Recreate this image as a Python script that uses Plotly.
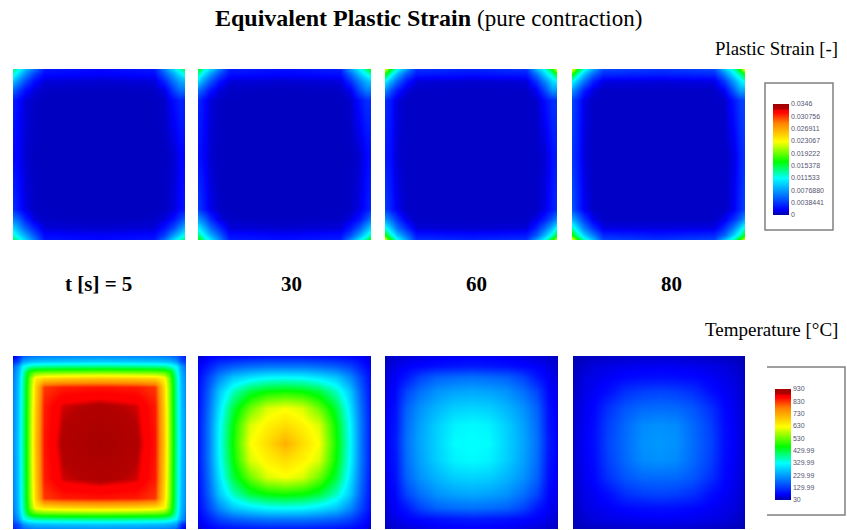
import plotly.graph_objects as go

W, H = 847, 530

strain_coords = [0, 3, 7, 12, 18, 50, 82, 88, 93, 97, 100]
strain_5 = [
    [14.0, 12.0, 9.0, 6.0, 2.6, 1.9, 2.6, 6.5, 10.0, 13.0, 15.0],
    [12.0, 10.0, 7.0, 4.0, 2.0, 1.7, 2.0, 5.0, 8.0, 10.5, 12.0],
    [9.0, 7.0, 4.5, 2.2, 1.0, 0.8, 1.0, 3.0, 6.0, 8.0, 8.5],
    [5.5, 4.0, 2.2, 1.0, 0.6, 0.5, 0.6, 1.2, 4.0, 6.0, 6.0],
    [2.8, 2.0, 1.0, 0.6, 0.5, 0.5, 0.5, 0.7, 2.0, 3.0, 3.0],
    [1.9, 1.7, 0.8, 0.5, 0.5, 0.5, 0.5, 0.5, 0.8, 1.7, 1.9],
    [3.5, 2.5, 1.2, 0.6, 0.5, 0.5, 0.5, 0.6, 1.0, 2.0, 2.6],
    [6.5, 5.5, 3.0, 1.0, 0.6, 0.5, 0.6, 1.0, 2.2, 4.0, 5.5],
    [10.0, 8.0, 5.5, 3.0, 1.0, 0.8, 1.0, 2.4, 4.5, 7.0, 9.0],
    [12.5, 10.5, 8.0, 5.0, 2.0, 1.7, 2.0, 4.0, 7.5, 10.0, 12.0],
    [15.0, 13.0, 10.0, 6.5, 2.6, 1.9, 2.6, 6.0, 10.0, 13.0, 15.0],
]
strain_30 = [
    [16.0, 13.0, 10.0, 6.5, 2.8, 2.2, 2.8, 7.5, 11.0, 14.0, 17.0],
    [13.0, 10.5, 7.5, 4.5, 2.2, 1.8, 2.2, 5.5, 9.0, 11.5, 13.0],
    [10.0, 7.5, 5.0, 2.4, 1.0, 0.8, 1.0, 3.4, 6.5, 8.5, 9.5],
    [6.0, 4.5, 2.4, 1.0, 0.6, 0.5, 0.6, 1.4, 4.5, 6.5, 6.5],
    [3.2, 2.2, 1.0, 0.6, 0.5, 0.5, 0.5, 0.7, 2.2, 3.4, 3.4],
    [2.2, 1.8, 0.8, 0.5, 0.5, 0.5, 0.5, 0.5, 0.8, 1.8, 2.3],
    [4.0, 2.8, 1.3, 0.6, 0.5, 0.5, 0.5, 0.6, 1.2, 2.4, 3.2],
    [7.5, 6.0, 3.4, 1.1, 0.6, 0.5, 0.6, 1.1, 2.4, 4.5, 6.5],
    [11.0, 9.0, 6.0, 3.4, 1.0, 0.8, 1.0, 2.6, 5.0, 8.0, 10.0],
    [14.0, 11.5, 8.5, 5.5, 2.2, 1.8, 2.2, 4.5, 8.0, 11.0, 13.5],
    [17.0, 14.0, 11.0, 7.0, 2.8, 2.2, 2.8, 7.0, 11.0, 14.0, 17.5],
]
strain_60 = [
    [22.0, 16.5, 11.5, 7.5, 3.6, 3.0, 3.6, 8.5, 12.0, 16.5, 23.0],
    [16.5, 12.5, 8.5, 5.0, 2.6, 2.2, 2.6, 6.0, 10.0, 13.0, 16.5],
    [11.0, 8.5, 5.5, 2.6, 1.0, 0.8, 1.0, 3.6, 7.0, 10.0, 11.0],
    [7.0, 5.0, 2.6, 1.0, 0.6, 0.6, 0.6, 1.5, 4.6, 7.5, 7.5],
    [3.4, 2.6, 1.0, 0.6, 0.6, 0.6, 0.6, 0.7, 2.2, 3.4, 3.6],
    [2.6, 2.2, 0.8, 0.6, 0.6, 0.6, 0.6, 0.6, 0.9, 2.2, 2.8],
    [4.0, 3.0, 1.4, 0.6, 0.6, 0.6, 0.6, 0.6, 1.3, 2.6, 3.4],
    [7.5, 6.0, 3.6, 1.2, 0.6, 0.6, 0.6, 1.2, 3.0, 5.0, 7.0],
    [12.0, 9.5, 6.0, 3.4, 1.0, 0.8, 1.0, 3.0, 6.0, 9.0, 12.0],
    [16.5, 13.0, 9.0, 6.0, 2.6, 2.2, 2.6, 5.0, 9.0, 12.5, 16.5],
    [23.0, 17.0, 12.0, 8.0, 3.6, 3.0, 3.6, 8.0, 12.0, 17.0, 23.0],
]
strain_80 = [
    [23.0, 17.0, 12.0, 8.0, 4.4, 3.6, 4.4, 9.0, 12.5, 17.0, 24.0],
    [17.0, 13.0, 9.0, 5.5, 3.2, 2.8, 3.2, 6.5, 10.5, 13.5, 17.0],
    [11.5, 9.0, 6.0, 2.8, 1.2, 1.0, 1.2, 3.8, 7.5, 10.5, 12.0],
    [7.5, 5.5, 2.8, 1.0, 0.6, 0.6, 0.6, 1.6, 5.0, 8.0, 8.0],
    [4.2, 3.2, 1.2, 0.6, 0.6, 0.6, 0.6, 0.7, 2.4, 4.0, 4.4],
    [3.6, 2.8, 1.0, 0.6, 0.6, 0.6, 0.6, 0.6, 1.1, 2.8, 3.8],
    [4.8, 3.4, 1.5, 0.6, 0.6, 0.6, 0.6, 0.6, 1.4, 3.2, 4.4],
    [8.5, 6.5, 3.8, 1.3, 0.6, 0.6, 0.6, 1.3, 3.4, 5.5, 8.0],
    [13.0, 10.0, 6.5, 3.6, 1.2, 1.1, 1.2, 3.4, 6.5, 10.0, 13.0],
    [17.0, 13.5, 9.5, 6.5, 3.2, 2.6, 3.2, 5.5, 9.5, 13.0, 17.0],
    [24.0, 18.0, 13.0, 9.0, 4.4, 3.6, 4.4, 9.0, 13.0, 18.0, 24.0],
]

temp5_coords = [0, 3, 6, 9, 13, 18, 29, 50, 71, 82, 87, 91, 94, 97, 100]
temp_5 = [
    [50, 110, 170, 190, 200, 205, 210, 215, 210, 205, 200, 190, 170, 130, 100],
    [110, 140, 230, 250, 260, 265, 270, 275, 270, 265, 260, 250, 220, 150, 130],
    [170, 230, 320, 360, 375, 380, 385, 390, 385, 380, 375, 355, 315, 230, 170],
    [190, 250, 360, 480, 520, 530, 535, 540, 535, 530, 515, 475, 355, 250, 190],
    [200, 260, 375, 520, 640, 670, 680, 690, 680, 670, 635, 515, 375, 260, 200],
    [205, 265, 380, 530, 670, 825, 845, 850, 845, 825, 665, 530, 380, 265, 205],
    [210, 270, 385, 535, 680, 845, 884, 895, 884, 845, 680, 535, 385, 270, 210],
    [215, 275, 390, 540, 690, 850, 895, 915, 895, 850, 690, 540, 390, 275, 215],
    [210, 270, 385, 535, 680, 845, 884, 895, 884, 845, 680, 535, 385, 270, 210],
    [205, 265, 380, 530, 670, 825, 845, 850, 845, 825, 665, 530, 380, 265, 205],
    [200, 260, 375, 515, 635, 665, 680, 690, 680, 665, 635, 515, 375, 260, 200],
    [190, 250, 355, 475, 515, 530, 535, 540, 535, 530, 515, 475, 355, 250, 190],
    [170, 220, 315, 355, 375, 380, 385, 390, 385, 380, 375, 355, 315, 230, 170],
    [130, 150, 220, 250, 260, 265, 270, 275, 270, 265, 260, 250, 230, 130, 90],
    [100, 130, 170, 190, 200, 205, 210, 215, 210, 205, 200, 190, 170, 90, 45],
]

temp_coords = [0, 6, 12, 20, 30, 40, 50, 60, 70, 80, 88, 94, 100]
temp_30 = [
    [50, 70, 80, 85, 90, 95, 95, 95, 90, 85, 80, 70, 50],
    [70, 100, 140, 165, 180, 190, 190, 190, 180, 165, 140, 100, 70],
    [80, 140, 210, 270, 300, 320, 325, 320, 300, 270, 210, 140, 80],
    [85, 165, 270, 360, 430, 460, 470, 460, 430, 360, 270, 165, 85],
    [90, 180, 300, 430, 530, 600, 620, 600, 530, 430, 300, 180, 90],
    [95, 190, 320, 460, 600, 640, 665, 640, 600, 460, 320, 190, 95],
    [95, 190, 325, 470, 620, 665, 720, 665, 620, 470, 325, 190, 95],
    [95, 190, 320, 460, 600, 640, 665, 640, 600, 460, 320, 190, 95],
    [90, 180, 300, 430, 530, 600, 620, 600, 530, 430, 300, 180, 90],
    [85, 165, 270, 360, 430, 460, 470, 460, 430, 360, 270, 165, 85],
    [80, 140, 210, 270, 300, 320, 325, 320, 300, 270, 210, 140, 80],
    [70, 100, 140, 165, 180, 190, 190, 190, 180, 165, 140, 100, 70],
    [50, 70, 80, 85, 90, 95, 95, 95, 90, 85, 80, 70, 50],
]
temp_60 = [
    [40, 50, 55, 60, 65, 68, 70, 68, 65, 60, 55, 50, 40],
    [50, 62, 72, 80, 90, 95, 100, 95, 90, 80, 72, 62, 50],
    [55, 72, 95, 140, 170, 180, 185, 180, 170, 140, 95, 72, 55],
    [60, 80, 140, 185, 220, 235, 240, 235, 220, 185, 140, 80, 60],
    [65, 90, 170, 220, 255, 280, 285, 280, 255, 220, 170, 90, 65],
    [68, 95, 180, 235, 280, 315, 325, 315, 280, 235, 180, 95, 68],
    [70, 100, 185, 240, 285, 325, 328, 325, 285, 240, 185, 100, 70],
    [68, 95, 180, 235, 280, 315, 325, 315, 280, 235, 180, 95, 68],
    [65, 90, 170, 220, 255, 280, 285, 280, 255, 220, 170, 90, 65],
    [60, 80, 140, 185, 220, 235, 240, 235, 220, 185, 140, 80, 60],
    [55, 72, 95, 140, 170, 180, 185, 180, 170, 140, 95, 72, 55],
    [50, 62, 72, 80, 90, 95, 100, 95, 90, 80, 72, 62, 50],
    [40, 50, 55, 60, 65, 68, 70, 68, 65, 60, 55, 50, 40],
]
temp_80 = [
    [35, 40, 42, 45, 48, 50, 50, 50, 48, 45, 42, 40, 35],
    [40, 50, 58, 62, 66, 68, 70, 68, 66, 62, 58, 50, 40],
    [42, 58, 64, 70, 80, 85, 88, 85, 80, 70, 64, 58, 42],
    [45, 62, 70, 85, 120, 135, 140, 135, 120, 85, 70, 62, 45],
    [48, 66, 80, 120, 160, 178, 182, 178, 160, 120, 80, 66, 48],
    [50, 68, 85, 135, 178, 212, 218, 212, 178, 135, 85, 68, 50],
    [50, 70, 88, 140, 182, 218, 225, 218, 182, 140, 88, 70, 50],
    [50, 68, 85, 135, 178, 212, 218, 212, 178, 135, 85, 68, 50],
    [48, 66, 80, 120, 160, 178, 182, 178, 160, 120, 80, 66, 48],
    [45, 62, 70, 85, 120, 135, 140, 135, 120, 85, 70, 62, 45],
    [42, 58, 64, 70, 80, 85, 88, 85, 80, 70, 64, 58, 42],
    [40, 50, 58, 62, 66, 68, 70, 68, 66, 62, 58, 50, 40],
    [35, 40, 42, 45, 48, 50, 50, 50, 48, 45, 42, 40, 35],
]

strain_ticks = [0, 3.8441, 7.688, 11.533, 15.378, 19.222, 23.067, 26.911, 30.756, 34.6]
strain_labels = ["0", "0.0038441", "0.0076880", "0.011533", "0.015378",
                 "0.019222", "0.023067", "0.026911", "0.030756", "0.0346"]
temp_ticks = [30, 129.99, 229.99, 329.99, 429.99, 530, 630, 730, 830, 930]
temp_labels = ["30", "129.99", "229.99", "329.99", "429.99", "530", "630", "730", "830", "930"]
time_labels = ["t [s] = 5", "30", "60", "80"]

scale = [
    [0.0, "#0000a8"], [0.05, "#0000ff"], [0.33, "#00ffff"], [0.48, "#00ff00"],
    [0.66, "#ffff00"], [0.83, "#ff8000"], [0.925, "#ff0000"], [0.94, "#ff0000"],
    [0.955, "#b40000"], [1.0, "#a00000"],
]

fx = lambda px: px / W
fy = lambda py: 1 - py / H

fig = go.Figure()

top_cols = [(13, 185), (198, 371), (385, 557), (572, 745)]
bot_cols = [(13, 186), (198, 371), (385, 558), (573, 745)]
panels = [
    (strain_coords, strain_5, top_cols[0], (69, 240)),
    (strain_coords, strain_30, top_cols[1], (69, 240)),
    (strain_coords, strain_60, top_cols[2], (69, 240)),
    (strain_coords, strain_80, top_cols[3], (69, 240)),
    (temp5_coords, temp_5, bot_cols[0], (356, 529)),
    (temp_coords, temp_30, bot_cols[1], (356, 529)),
    (temp_coords, temp_60, bot_cols[2], (356, 529)),
    (temp_coords, temp_80, bot_cols[3], (356, 529)),
]


def bar(ticks, labels, x_px, top_px, bottom_px):
    return dict(
        x=fx(x_px), xanchor="left", y=fy(bottom_px), yanchor="bottom",
        len=bottom_px - top_px, lenmode="pixels", thickness=16, thicknessmode="pixels",
        xpad=0, ypad=0, outlinewidth=0, tickvals=ticks, ticktext=labels,
        ticks="", ticklabelposition="outside",
        tickfont=dict(family="Liberation Sans", size=7, color="#555570"),
    )


for i, (coords, z, (x0, x1), (y0, y1)) in enumerate(panels):
    n = i + 1
    strain = i < 4
    fig.add_trace(go.Heatmap(
        x=coords, y=coords, z=z, xaxis=f"x{n}", yaxis=f"y{n}",
        colorscale=scale, zsmooth="best", hoverinfo="skip",
        zmin=0 if strain else 30, zmax=34.6 if strain else 930,
        showscale=i in (0, 4),
        colorbar=bar(strain_ticks, strain_labels, 773, 104, 215) if strain
        else bar(temp_ticks, temp_labels, 775, 389, 500),
    ))
    axis = dict(visible=False, fixedrange=True)
    fig.layout[f"xaxis{n}"] = dict(axis, domain=[fx(x0), fx(x1)], range=[0, 100], anchor=f"y{n}")
    fig.layout[f"yaxis{n}"] = dict(axis, domain=[fy(y1), fy(y0)], range=[100, 0], anchor=f"x{n}")


def text(s, x, y, size, anchor="center", weight=False):
    fig.add_annotation(
        xref="paper", yref="paper", x=fx(x), y=fy(y), text=f"<b>{s}</b>" if weight else s,
        showarrow=False, xanchor=anchor, yanchor="middle",
        font=dict(family="Liberation Serif", size=size, color="black"),
    )


fig.add_annotation(
    xref="paper", yref="paper", x=fx(428), y=fy(18), showarrow=False,
    text="<b>Equivalent Plastic Strain</b> <span style='font-size:23px'>(pure contraction)</span>",
    xanchor="center", yanchor="middle",
    font=dict(family="Liberation Serif", size=24, color="black"),
)
text("Plastic Strain [-]", 840, 49, 18.8, "right")
text("Temperature [°C]", 840, 329, 19, "right")
for label, cx in zip(time_labels, (98, 291, 476, 671)):
    text(label, cx, 284, 21, weight=True)

fig.add_shape(type="rect", xref="paper", yref="paper", x0=fx(765), x1=fx(833), y0=fy(230), y1=fy(83),
              line=dict(color="#808080", width=1.5), fillcolor="white", layer="below")
fig.add_shape(type="path", xref="paper", yref="paper",
              path=f"M {fx(767)} {fy(367)} L {fx(845)} {fy(367)} L {fx(845)} {fy(515)} L {fx(767)} {fy(515)}",
              line=dict(color="#808080", width=1.5))

fig.update_layout(
    width=W, height=H, margin=dict(l=0, r=0, t=0, b=0),
    paper_bgcolor="white", plot_bgcolor="white", showlegend=False,
)
fig.write_html("out.html", config={"displayModeBar": False},
               post_script="document.body.style.margin='0';document.body.style.overflow='hidden';")
